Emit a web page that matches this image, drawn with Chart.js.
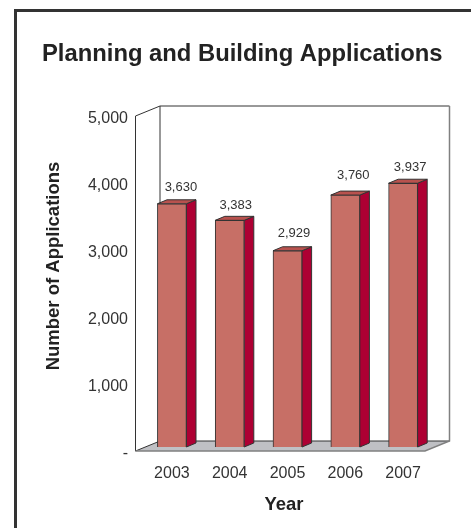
<!DOCTYPE html>
<html>
<head>
<meta charset="utf-8">
<style>
  html, body { margin: 0; padding: 0; background: #fff; overflow: hidden; }
  #frame { position: absolute; left: 14px; top: 9px; width: 600px; height: 800px; border: 3px solid #333; }
  canvas { position: absolute; left: 0; top: 0; }
</style>
</head>
<body>
<div id="frame"></div>
<canvas id="applicationsChart" width="471" height="528"></canvas>
<script src="https://cdn.jsdelivr.net/npm/chart.js@4"></script>
<script>
const years = ['2003', '2004', '2005', '2006', '2007'];
const applications = [3630, 3383, 2929, 3760, 3937];
const valueTicks = [0, 1000, 2000, 3000, 4000, 5000];
const chartTitle = 'Planning and Building Applications';
const yTitle = 'Number of Applications';
const xTitle = 'Year';

const FONT = '"Liberation Sans", Arial, sans-serif';
const DEPTH_X = 9.6, DEPTH_Y = 4;       // depth of a bar
const ROOM_X = 24.5, ROOM_Y = 10;       // depth of the floor and walls
const labelNudge = [[9, -16], [6, -15], [6.5, -17], [8, -20], [7, -16]];

function poly(ctx, pts, fill, stroke, width) {
    ctx.beginPath();
    pts.forEach((p, i) => i ? ctx.lineTo(p[0], p[1]) : ctx.moveTo(p[0], p[1]));
    ctx.closePath();
    if (fill) { ctx.fillStyle = fill; ctx.fill(); }
    if (stroke) { ctx.strokeStyle = stroke; ctx.lineWidth = width || 1; ctx.stroke(); }
}

// walls and floor behind the bars, side and top faces of the bars
const box3d = {
    id: 'box3d',
    beforeDatasetsDraw(chart) {
        const ctx = chart.ctx;
        const y = chart.scales.y;
        const left = chart.chartArea.left - 7.5;
        const right = chart.chartArea.right - 7;
        const bottom = y.getPixelForValue(0) + 4;
        const top = y.getPixelForValue(5000) + 4;
        ctx.save();
        // floor
        poly(ctx, [[left, bottom], [left + ROOM_X, bottom - ROOM_Y], [right + ROOM_X, bottom - ROOM_Y], [right, bottom]], '#bfc0c4', null);
        // left wall
        ctx.strokeStyle = '#333';
        ctx.lineWidth = 1;
        ctx.beginPath();
        ctx.moveTo(left, bottom);
        ctx.lineTo(left, top);
        ctx.lineTo(left + ROOM_X, top - ROOM_Y);
        ctx.lineTo(left + ROOM_X, bottom - ROOM_Y);
        ctx.lineTo(left, bottom);
        ctx.stroke();
        // back wall
        ctx.beginPath();
        ctx.moveTo(left + ROOM_X, top - ROOM_Y);
        ctx.lineTo(right + ROOM_X, top - ROOM_Y);
        ctx.stroke();
        ctx.beginPath();
        ctx.moveTo(left + ROOM_X, bottom - ROOM_Y);
        ctx.lineTo(right + ROOM_X, bottom - ROOM_Y);
        ctx.stroke();
        ctx.strokeStyle = '#808080';
        ctx.lineWidth = 1.5;
        ctx.beginPath();
        ctx.moveTo(right + ROOM_X, top - ROOM_Y);
        ctx.lineTo(right + ROOM_X, bottom - ROOM_Y);
        ctx.lineTo(right, bottom);
        ctx.lineTo(left, bottom);
        ctx.stroke();
        // bar faces
        chart.getDatasetMeta(0).data.forEach(bar => {
            const x0 = bar.x - bar.width / 2, x1 = bar.x + bar.width / 2;
            poly(ctx, [[x1, bar.y], [x1 + DEPTH_X, bar.y - DEPTH_Y], [x1 + DEPTH_X, bar.base - DEPTH_Y], [x1, bar.base]], '#ad0033', '#333');
            poly(ctx, [[x0, bar.y], [x0 + DEPTH_X, bar.y - DEPTH_Y], [x1 + DEPTH_X, bar.y - DEPTH_Y], [x1, bar.y]], '#b8524e', '#333');
        });
        ctx.restore();
    },
    afterDatasetsDraw(chart) {
        const ctx = chart.ctx;
        ctx.save();
        ctx.textAlign = 'center';
        ctx.textBaseline = 'middle';
        ctx.fillStyle = '#333';
        ctx.font = '13px ' + FONT;
        chart.getDatasetMeta(0).data.forEach((bar, i) => {
            ctx.fillText(applications[i].toLocaleString('en-US'), bar.x + labelNudge[i][0], bar.y + labelNudge[i][1]);
        });
        // axis titles
        ctx.fillStyle = '#222';
        ctx.font = 'bold 18.5px ' + FONT;
        ctx.fillText(xTitle, 284, 505);
        ctx.translate(54, 266);
        ctx.rotate(-Math.PI / 2);
        ctx.fillText(yTitle, 0, 0);
        ctx.restore();
    }
};

document.addEventListener('DOMContentLoaded', function () {
    const ctx = document.getElementById('applicationsChart').getContext('2d');
    new Chart(ctx, {
        type: 'bar',
        data: {
            labels: years,
            datasets: [{
                data: applications,
                backgroundColor: '#c76f66',
                borderColor: '#333',
                borderWidth: 1,
                barThickness: 29
            }]
        },
        plugins: [box3d],
        options: {
            responsive: false,
            animation: false,
            layout: { padding: { left: 42, right: 0, top: 0, bottom: 0 } },
            plugins: {
                legend: { display: false },
                tooltip: { enabled: false },
                title: {
                    display: true,
                    text: chartTitle,
                    align: 'start',
                    color: '#222',
                    font: { family: FONT, size: 23.8, weight: 'bold' },
                    padding: { top: 40, bottom: 43.44 }
                }
            },
            scales: {
                x: {
                    grid: { display: false, drawTicks: false },
                    border: { display: false },
                    ticks: { color: '#333', font: { family: FONT, size: 16 }, padding: 17, maxRotation: 0 },
                    afterFit(scale) { scale.height = 81; }
                },
                y: {
                    min: 0,
                    max: 5000,
                    grid: { display: false, drawTicks: false },
                    border: { display: false },
                    afterBuildTicks(scale) { scale.ticks = valueTicks.map(v => ({ value: v })); },
                    ticks: {
                        color: '#333',
                        font: { family: FONT, size: 16 },
                        padding: 15,
                        labelOffset: 7,
                        callback: v => v === 0 ? '-' : v.toLocaleString('en-US')
                    },
                    afterFit(scale) { scale.width = 101; }
                },
                // empty axis, only holds the margin right of the plot
                spacer: {
                    position: 'right',
                    grid: { display: false, drawTicks: false },
                    border: { display: false },
                    ticks: { display: false },
                    afterFit(scale) { scale.width = 39; }
                }
            }
        }
    });
});
</script>
</body>
</html>
